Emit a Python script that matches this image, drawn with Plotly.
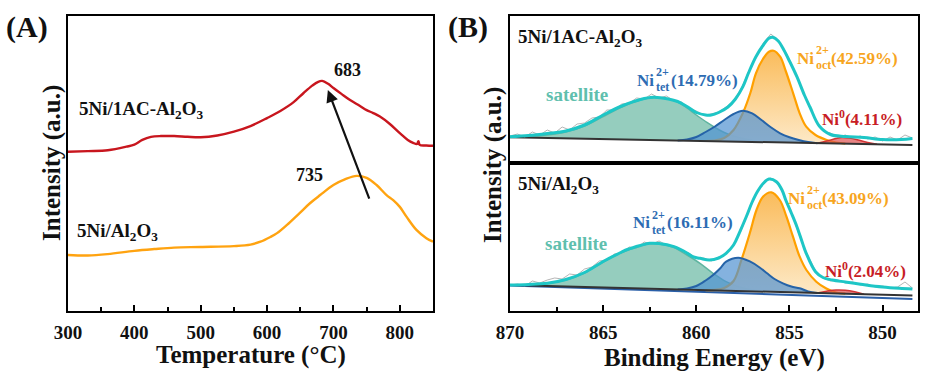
import plotly.graph_objects as go

# ---------------- Panel A : H2-TPR ----------------
temp_red = [300, 330, 360, 388, 400, 412, 425, 440, 460, 480, 500, 525, 550, 575, 600, 620, 640, 655, 668,
            677, 683, 692, 700, 712, 725, 740, 750, 760, 770, 785, 800, 812, 820, 826, 828, 830, 840, 850]
int_red = [54.0, 54.2, 54.5, 55.7, 56.4, 58.0, 59.0, 59.3, 59.3, 59.05, 58.9, 59.5, 60.8, 62.7, 65.4, 67.8, 70.8,
           73.9, 76.4, 77.7, 78.0, 77.0, 75.6, 73.6, 71.5, 69.5, 68.1, 67.1, 65.9, 63.4, 60.3, 58.0, 57.0, 56.6,
           57.6, 56.3, 56.1, 56.0]
temp_org = [300, 330, 360, 400, 430, 460, 500, 550, 575, 590, 605, 615, 630, 649, 665, 680, 700, 718, 735, 750,
            765, 780, 790, 800, 810, 825, 840, 850]
int_org = [19.0, 18.8, 19.3, 20.4, 21.0, 21.5, 21.7, 22.0, 22.5, 23.5, 25.1, 26.4, 29.2, 33.2, 36.6, 39.3, 42.7,
           44.7, 45.8, 45.1, 42.7, 39.3, 37.6, 35.3, 32.0, 27.5, 24.7, 23.5]
peak_red = 683
peak_org = 735
arrow_tail = (754.8, 37.6)
arrow_tip = (691.6, 74.9)
label_red = "5Ni/1AC-Al<sub>2</sub>O<sub>3</sub>"
label_org = "5Ni/Al<sub>2</sub>O<sub>3</sub>"

# ---------------- Panel B : Ni 2p XPS ----------------
be_raw = [870.0, 869.6, 869.2, 868.8, 868.4, 868.0, 867.6, 867.2, 866.8, 866.4,
          866.0, 865.6, 865.2, 864.8, 864.4, 864.0, 863.6, 863.2, 862.8, 862.4,
          862.0, 861.6, 861.2, 860.8, 860.4, 860.0, 859.6, 859.2, 858.8, 858.4,
          858.0, 857.6, 857.2, 856.8, 856.4, 856.0, 855.6, 855.2, 854.8, 854.4,
          854.0, 853.6, 853.2, 852.8, 852.4, 852.0, 851.6, 851.2, 850.8, 850.4,
          850.0, 849.6, 849.2, 848.8, 848.4]

# top: 5Ni/1AC-Al2O3
raw_top = [27, 29, 26, 31, 28, 33, 30, 36, 33, 39,
           40, 45, 46, 53, 53, 59, 60, 65, 64, 69,
           65, 67, 62, 61, 55, 52, 48, 49, 51, 56,
           62, 74, 91, 107, 120, 129, 123, 111, 95, 77,
           61, 43, 32, 30, 26, 28, 25, 27, 24, 26,
           22, 26, 23, 28, 25]
bg_top_be = [870.0, 848.4]
bg_top = [25.7, 18.0]
sat_top_be = [870, 869, 868, 867, 866, 865, 864, 863, 862.3, 861.5, 861, 860.5, 860, 859.5, 859, 858.5, 858,
              857.5, 857, 856.5]
sat_top = [25.7, 26.5, 28.0, 31.0, 37.0, 46.5, 56.0, 63.0, 65.5, 64.0, 61.0, 55.0, 48.0, 41.5, 35.5, 30.5, 27.0,
           24.5, 22.5, 20.9]
tet_top_be = [861, 860.5, 860, 859.5, 859, 858.5, 858, 857.5, 857, 856.5, 856, 855.5, 855, 854.5, 854, 853.5]
tet_top = [22.5, 23.5, 26.0, 31.0, 36.5, 43.0, 49.0, 52.3, 49.7, 43.0, 35.7, 29.7, 25.7, 23.0, 21.0, 19.8]
oct_top_be = [859.5, 859, 858.5, 858, 857.5, 857.1, 856.8, 856.4, 856.1, 855.85, 855.5, 855.2, 854.8, 854.45,
              854.1, 853.6, 853.0, 852.5, 852.0]
oct_top = [22.0, 22.5, 25.0, 33.0, 50.0, 70.0, 89.7, 104.7, 111.3, 112.3, 106.3, 92.0, 69.7, 49.7, 36.3, 28.0,
           23.0, 20.5, 19.3]
ni0_top_be = [853.5, 853, 852.5, 852.2, 851.8, 851.3, 850.8, 850.3]
ni0_top = [19.8, 22.0, 24.5, 25.5, 25.0, 23.0, 20.5, 18.7]
env_top_be = [870, 869, 868, 867, 866, 865, 864, 863, 862.3, 861.5, 861, 860.5, 860, 859.5, 859.2, 858.8, 858.3,
              857.9, 857.5, 857.2, 856.8, 856.4, 856.1, 855.9, 855.6, 855.3, 855, 854.6, 854.2, 853.9, 853.4,
              852.8, 852, 851, 850, 849, 848.4]
env_top = [26.3, 27.5, 29.5, 32.0, 38.0, 48.0, 57.0, 63.5, 65.7, 64.0, 61.5, 56.5, 50.5, 48.0, 48.0, 50.5, 56.0,
           64.0, 76.3, 90.0, 106.3, 118.0, 124.7, 125.7, 122.0, 113.0, 102.0, 86.3, 68.0, 56.0, 37.0, 28.5,
           26.5, 25.5, 23.5, 23.5, 24.5]

# bottom: 5Ni/Al2O3
raw_bot = [26, 27, 25, 30, 28, 31, 33, 32, 37, 36,
           42, 44, 50, 51, 57, 58, 64, 63, 69, 67,
           70, 66, 65, 60, 58, 53, 53, 50, 54, 57,
           67, 80, 99, 117, 128, 133, 127, 112, 93, 72,
           55, 40, 33, 30, 31, 28, 29, 26, 27, 24,
           25, 23, 24, 29, 23]
bg_bot_be = [870.0, 848.4]
bg_bot = [26.0, 15.5]
base_bot = [25.5, 12.0]
sat_bot_be = [870, 869, 868, 867, 866, 865, 864, 863, 862.5, 862, 861.2, 860.5, 859.8, 859.1, 858.4, 857.7, 857,
              856.3]
sat_bot = [26.0, 26.5, 27.5, 31.0, 38.0, 49.0, 58.5, 65.0, 67.5, 67.0, 63.5, 56.0, 47.7, 37.7, 29.3, 24.0, 21.0,
           19.3]
tet_bot_be = [861, 860.5, 860, 859.5, 859.1, 858.7, 858.4, 857.75, 857.1, 856.6, 856.2, 855.8, 855.35, 854.9,
              854.45, 854, 853.5]
tet_bot = [21.6, 22.5, 25.0, 30.5, 36.0, 43.0, 49.3, 53.3, 49.3, 43.5, 37.7, 32.0, 27.7, 24.5, 22.7, 19.6, 18.0]
oct_bot_be = [859.5, 859, 858.5, 858, 857.58, 857.13, 856.77, 856.42, 855.97, 855.52, 855.16, 854.81, 854.45,
              854.09, 853.56, 853.02, 852.5, 852]
oct_bot = [20.9, 21.2, 23.0, 30.0, 51.0, 77.7, 101.0, 114.3, 118.7, 111.0, 94.3, 74.3, 54.3, 41.0, 29.3, 22.5,
           18.5, 17.3]
ni0_bot_be = [853.5, 853, 852.5, 852, 851.5, 851]
ni0_bot = [18.0, 19.8, 21.0, 20.8, 19.3, 16.8]
env_bot_be = [870, 869, 868, 867, 866, 865, 864, 863.7, 863, 862.5, 862, 861.2, 860.5, 860.2, 859.8, 859.3, 858.8,
              858.4, 858, 857.7, 857.3, 857, 856.7, 856.4, 856.1, 855.7, 855.4, 855.2, 854.9, 854.6, 854.3, 854.1,
              853.6, 853.2, 852.7, 852, 850.9, 850, 849.1, 848.4]
env_bot = [26.0, 26.5, 27.7, 31.5, 38.5, 49.5, 59.0, 61.5, 65.5, 67.7, 67.5, 64.3, 58.0, 54.3, 52.7, 51.0, 53.0,
           57.7, 66.0, 77.7, 95.0, 109.0, 120.0, 127.7, 132.0, 129.3, 121.0, 111.0, 98.0, 84.3, 68.0, 57.7,
           39.3, 33.5, 31.0, 29.0, 26.0, 24.0, 22.7, 22.0]

pct_top = {"tet": "(14.79%)", "oct": "(42.59%)", "ni0": "(4.11%)"}
pct_bot = {"tet": "(16.11%)", "oct": "(43.09%)", "ni0": "(2.04%)"}

# ---------------- styling ----------------
W, H = 925, 373
FONT = "Liberation Serif"
C_RED = "#c8161e"
C_ORG = "#ffa310"
C_ENV = "#1ec6c6"
C_SAT_T = "#5fbfae"
C_TET_T = "#2d6cb3"
C_OCT_T = "#f7a51e"
C_NI0_T = "#c81d25"


def px(x):
    return x / W


def py(y):
    return 1 - y / H


fig = go.Figure()

# Panel A
fig.add_trace(go.Scatter(x=temp_red, y=int_red, mode="lines", line=dict(color=C_RED, width=2.4, shape="spline"),
                         xaxis="x", yaxis="y"))
fig.add_trace(go.Scatter(x=temp_org, y=int_org, mode="lines", line=dict(color=C_ORG, width=2.4, shape="spline"),
                         xaxis="x", yaxis="y"))


def add_xps(xa, ya, raw, bg_be, bg, sat_be, sat, tet_be, tet, oct_be, octv, ni0_be, ni0, env_be, env, base=None):
    if base is not None:
        fig.add_trace(go.Scatter(x=bg_be, y=base, mode="lines", line=dict(color="#2a5fa8", width=2),
                                 xaxis=xa, yaxis=ya))
    fig.add_trace(go.Scatter(x=sat_be, y=sat, mode="lines", fill="toself", fillcolor="rgba(108,186,165,0.72)",
                             line=dict(color="rgba(95,180,160,1)", width=1.5, shape="spline"), xaxis=xa, yaxis=ya))
    fig.add_trace(go.Scatter(x=oct_be, y=octv, mode="lines", fill="toself",
                             fillgradient=dict(type="vertical",
                                               colorscale=[[0, "rgba(253,232,196,0.95)"],
                                                           [1, "rgba(250,184,82,0.95)"]]),
                             line=dict(color="#ffa000", width=2.2, shape="spline"), xaxis=xa, yaxis=ya))
    fig.add_trace(go.Scatter(x=ni0_be, y=ni0, mode="lines", fill="toself", fillcolor="rgba(222,80,80,0.7)",
                             line=dict(color="#d03535", width=1.5, shape="spline"), xaxis=xa, yaxis=ya))
    fig.add_trace(go.Scatter(x=tet_be, y=tet, mode="lines", fill="toself", fillcolor="rgba(80,145,210,0.7)",
                             line=dict(color="#2563a8", width=2, shape="spline"), xaxis=xa, yaxis=ya))
    fig.add_trace(go.Scatter(x=bg_be, y=bg, mode="lines", line=dict(color="#333333", width=2),
                             xaxis=xa, yaxis=ya))
    fig.add_trace(go.Scatter(x=be_raw, y=raw, mode="lines", line=dict(color="rgba(150,150,150,0.7)", width=1),
                             xaxis=xa, yaxis=ya))
    fig.add_trace(go.Scatter(x=env_be, y=env, mode="lines", line=dict(color=C_ENV, width=3, shape="spline"),
                             xaxis=xa, yaxis=ya))


add_xps("x3", "y2", raw_top, bg_top_be, bg_top, sat_top_be, sat_top, tet_top_be, tet_top, oct_top_be, oct_top,
        ni0_top_be, ni0_top, env_top_be, env_top)
add_xps("x2", "y3", raw_bot, bg_bot_be, bg_bot, sat_bot_be, sat_bot, tet_bot_be, tet_bot, oct_bot_be, oct_bot,
        ni0_bot_be, ni0_bot, env_bot_be, env_bot, base=base_bot)

ann = []


def text(x, y, s, size, color="#111111", xanchor="center", yanchor="middle", xref="paper", yref="paper",
         angle=0):
    if xref == "paper":
        x, y = px(x), py(y)
    ann.append(dict(x=x, y=y, xref=xref, yref=yref, text=s, showarrow=False, xanchor=xanchor, yanchor=yanchor,
                    textangle=angle, font=dict(family=FONT, size=size, color=color, weight="bold")))


# panel letters
text(27, 27, "(A)", 30)
text(468, 27, "(B)", 30)
# axis titles
text(250.5, 355, "Temperature (°C)", 25)
text(714, 358, "Binding Energy (eV)", 25)
text(52, 163, "Intensity (a.u.)", 25, angle=-90)
text(493, 165, "Intensity (a.u.)", 25, angle=-90)

# panel A labels (data coordinates)
text(313.6, 68.1, label_red, 19, xanchor="left", xref="x", yref="y")
text(310.5, 26.9, label_org, 19, xanchor="left", xref="x", yref="y")
text(721.7, 81.7, str(peak_red), 18, xref="x", yref="y")
text(664.5, 46.1, str(peak_org), 18, xref="x", yref="y")
ann.append(dict(x=arrow_tip[0], y=arrow_tip[1], ax=arrow_tail[0], ay=arrow_tail[1], xref="x", yref="y",
                axref="x", ayref="y", showarrow=True, arrowhead=2, arrowsize=1.1, arrowwidth=2.2,
                arrowcolor="#111111", text=""))

# panel B labels
text(516, 38, label_red, 19, xanchor="left")
text(516, 185, label_org, 19, xanchor="left")
text(576.5, 95, "satellite", 19, color=C_SAT_T)
text(575.5, 243, "satellite", 19, color=C_SAT_T)


def stacked(xl, yc, sub, rest, color):
    text(xl, yc, "Ni", 17, color=color, xanchor="left")
    text(xl + 18.5, yc - 8, "2+", 12, color=color, xanchor="left")
    text(xl + 18.5, yc + 6.5, sub, 12, color=color, xanchor="left")
    text(xl + 34, yc, rest, 17, color=color, xanchor="left")


stacked(635, 80, "tet", pct_top["tet"], C_TET_T)
stacked(795, 58, "oct", pct_top["oct"], C_OCT_T)
stacked(631, 223, "tet", pct_bot["tet"], C_TET_T)
stacked(786, 198, "oct", pct_bot["oct"], C_OCT_T)
text(820, 118, "Ni<sup>0</sup>" + pct_top["ni0"], 17, color=C_NI0_T, xanchor="left")
text(823, 270, "Ni<sup>0</sup>" + pct_bot["ni0"], 17, color=C_NI0_T, xanchor="left")

axis_common = dict(showline=True, linecolor="black", linewidth=2, mirror=True, showgrid=False, zeroline=False,
                   automargin=False)
tickfont = dict(family=FONT, size=19, color="#111111", weight="bold")

fig.update_layout(
    width=W, height=H, margin=dict(l=0, r=0, t=0, b=0, autoexpand=False),
    paper_bgcolor="white", plot_bgcolor="white", showlegend=False,
    annotations=ann,
    xaxis=dict(domain=[px(68), px(433)], range=[300, 850], anchor="y", tickvals=[300, 400, 500, 600, 700, 800],
               ticks="inside", ticklen=6, tickwidth=2, tickcolor="black", tickfont=tickfont,
               ticklabelstandoff=3,
               minor=dict(tickvals=[350, 450, 550, 650, 750], ticks="inside", ticklen=4, tickwidth=2,
                          tickcolor="black"), **axis_common),
    yaxis=dict(domain=[py(311), py(16)], range=[0, 100], anchor="x", showticklabels=False, ticks="",
               **axis_common),
    xaxis2=dict(domain=[px(510), px(918)], range=[870, 848.1], anchor="y3",
                tickvals=[870, 865, 860, 855, 850], ticks="inside", ticklen=6, tickwidth=2, tickcolor="black",
                tickfont=tickfont, ticklabelstandoff=3,
                minor=dict(tickvals=[867.5, 862.5, 857.5, 852.5], ticks="inside", ticklen=4, tickwidth=2,
                           tickcolor="black"), **axis_common),
    xaxis3=dict(domain=[px(510), px(918)], range=[870, 848.1], anchor="y2", matches="x2",
                showticklabels=False, ticks="", **axis_common),
    yaxis2=dict(domain=[py(163), py(16)], range=[0, 147], anchor="x3", showticklabels=False, ticks="",
                **axis_common),
    yaxis3=dict(domain=[py(311), py(163)], range=[0, 148], anchor="x2", showticklabels=False, ticks="",
                **axis_common),
)

fig.write_html("out.html", config={"displayModeBar": False},
               post_script="document.body.style.margin='0px';document.body.style.overflow='hidden';")
